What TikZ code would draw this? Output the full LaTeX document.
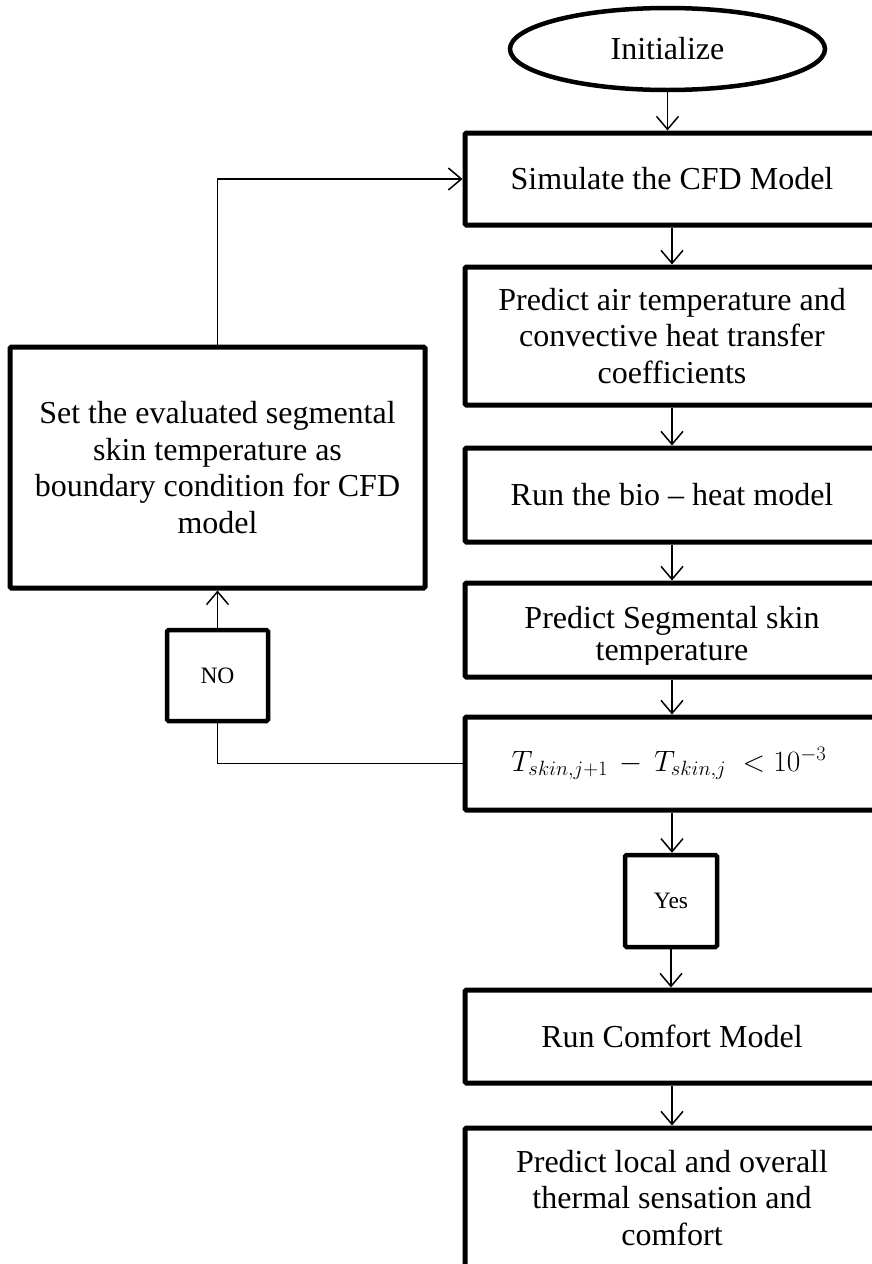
\RequirePackage{fix-cm}
\documentclass[tikz,border=0pt]{standalone}
\usepackage{fontspec}
\setmainfont{Liberation Serif}
\usetikzlibrary{shapes.geometric,arrows.meta}
\begin{document}
\begin{tikzpicture}[x=1pt,y=-1pt,
  box/.style={draw, line width=5pt, rounded corners=1.5pt, minimum width=414pt,
    inner sep=0pt, align=center, font=\fontsize{32}{36.7}\selectfont},
  smallbox/.style={draw, line width=4.5pt, rounded corners=1.5pt,
    inner sep=0pt, align=center, font=\fontsize{23.5}{28}\selectfont},
  oval/.style={draw, ellipse, line width=4.5pt, minimum width=315pt, minimum height=82pt,
    inner sep=0pt, font=\fontsize{32}{36.7}\selectfont},
  conn/.style={line width=1.5pt},
  arr/.style={conn, -{Straight Barb[length=13pt,width=22pt,line width=1.5pt]}}]
\useasboundingbox (0,0) rectangle (872,1264);
\clip (0,0) rectangle (872,1264);

\node[oval] (init) at (667.5,49) {\raisebox{-3pt}{Initialize}};
\node[box, minimum height=92pt] (sim) at (672,179) {Simulate the CFD Model};
\node[box, minimum height=138pt] (air) at (672,336) {Predict air temperature and\\convective heat transfer\\coefficients};
\node[box, minimum height=94pt] (bio) at (672,495) {Run the bio – heat model};
\node[box, minimum height=94pt] (seg) at (672,630) {};
\begin{scope}
  \clip (420,583) rectangle (880,664);
  \node[inner sep=0pt, align=center, font=\fontsize{32}{32}\selectfont] (segtext) at (672,637) {Predict Segmental skin\\temperature};
\end{scope}
\node[box, minimum height=93pt, font=\fontsize{29.5}{34}\selectfont] (cond) at (672,763.5) {$T_{skin,j+1}\,-\,T_{skin,j}\;<10^{-3}$\hspace{6pt}};
\node[smallbox, minimum width=92pt, minimum height=92pt] (yes) at (671,901) {Yes};
\node[box, minimum height=93pt] (comfort) at (672,1036.5) {Run Comfort Model};
\node[box, minimum height=140pt] (final) at (672,1198) {Predict local and overall\\thermal sensation and\\comfort};

\node[box, minimum width=415pt, minimum height=241pt] (set) at (217.5,467.5) {Set the evaluated segmental\\skin temperature as\\boundary condition for CFD\\model};
\node[smallbox, minimum width=101pt, minimum height=91pt] (no) at (217.5,675.5) {NO};

\draw[arr] (init.south) -- (init.south |- sim.north);
\draw[arr] (sim.south) -- (air.north);
\draw[arr] (air.south) -- (bio.north);
\draw[arr] (bio.south) -- (seg.north);
\draw[arr] (seg.south) -- (cond.north);
\draw[arr] (cond.south) -- (cond.south |- yes.north);
\draw[arr] (yes.south) -- (yes.south |- comfort.north);
\draw[arr] (comfort.south) -- (final.north);
\draw[conn] (cond.west) -| (no.south);
\draw[arr] (no.north) -- (set.south);
\draw[arr] (set.north) |- (sim.west);
\end{tikzpicture}
\end{document}
